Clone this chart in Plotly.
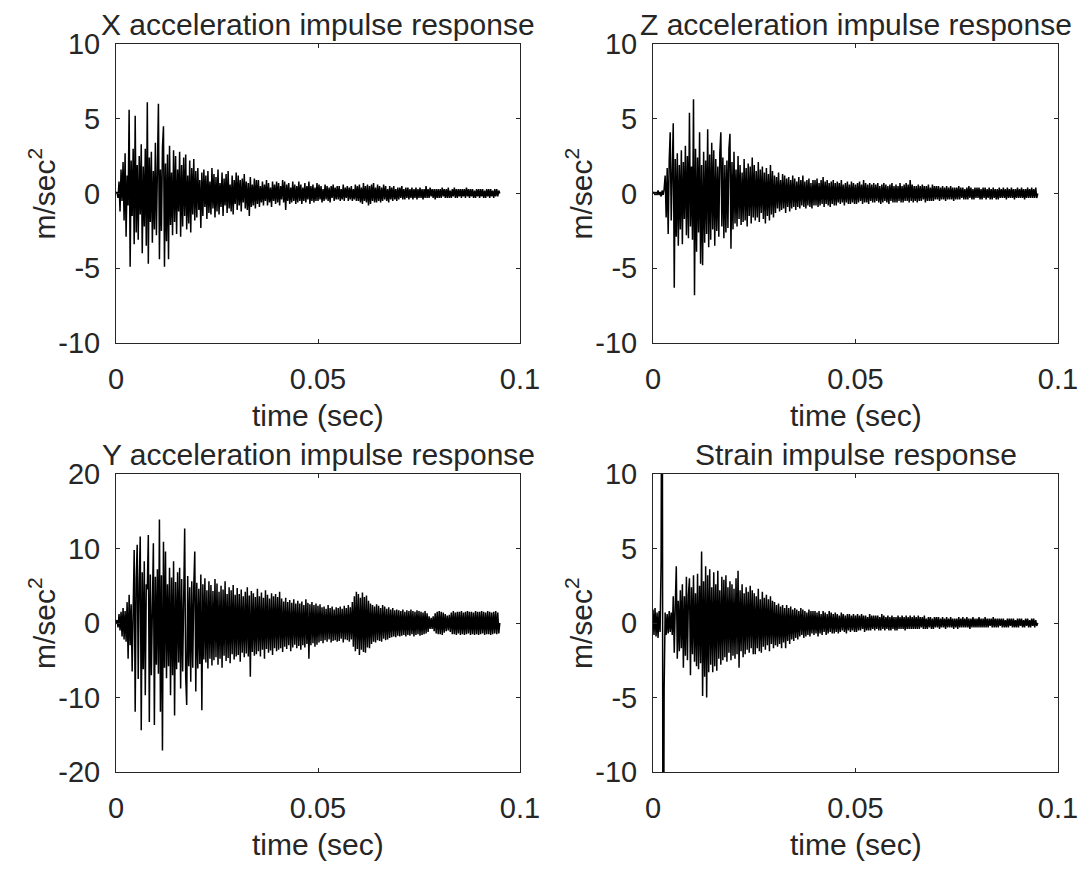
import plotly.graph_objects as go
from plotly.subplots import make_subplots

# samples, 0.25 ms apart, 0 .. 0.095 s (20 values per 5 ms row)
dt = 0.00025

x_accel = [
    0.0, 0.1, -0.3, 0.8, -1.2, 1.6, -0.5, 2.1, -1.8, 2.7, -2.9, 1.2, -0.8, 5.6, -4.9, 2.2, -1.5, 3.0, -3.4, 5.2,
    -2.6, 1.9, -3.1, 2.5, -1.4, 3.3, -4.0, 1.8, -2.2, 3.0, -3.5, 6.1, -4.7, 2.4, -1.9, 2.8, -3.3, 1.5, -2.4, 3.4,
    -2.8, 2.2, 6.0, -4.4, 1.6, -2.5, 3.1, 4.5, -4.9, 2.0, -3.2, 2.6, -4.4, 3.2, -2.1, 1.4, -2.8, 2.9, -1.9, 2.5,
    -2.7, 1.6, -1.2, 2.8, -2.9, 1.9, -2.2, 2.4, -1.5, 2.6, -2.4, 1.2, -2.0, 2.2, -2.6, 1.7, -1.4, 2.3, -1.8, 1.5,
    -1.6, 1.7, -1.1, 0.9, -2.3, 1.4, -1.5, 1.6, -0.9, 1.2, -1.7, 1.5, -1.3, 0.8, -1.4, 1.7, -1.0, 1.3, -1.6, 1.1,
    -1.2, 1.6, -1.4, 0.7, -0.9, 1.4, -1.5, 1.0, -0.8, 1.3, -1.3, 1.5, -1.0, 0.6, -1.2, 1.2, -1.4, 0.9, -0.7, 1.4,
    -1.1, 1.2, -0.8, 0.9, -1.2, 1.0, -0.6, 1.3, -1.0, 0.8, -1.1, 0.7, -1.5, 1.1, -0.9, 0.6, -0.8, 1.0, -1.0, 0.9,
    -0.7, 0.9, -0.9, 0.5, -0.6, 0.8, -0.8, 0.6, -0.5, 0.9, -0.8, 0.7, -0.6, 0.4, -0.9, 0.8, -0.5, 0.6, -0.7, 0.8,
    -0.6, 0.7, -0.8, 0.5, -0.4, 0.9, -0.6, 0.8, -1.1, 0.6, -0.5, 0.7, -0.7, 0.4, -0.6, 0.8, -0.5, 0.6, -0.7, 0.5,
    -0.6, 0.8, -0.5, 0.6, -0.7, 0.4, -0.5, 0.7, -0.6, 0.5, -0.4, 0.8, -0.7, 0.5, -0.5, 0.6, -0.6, 0.4, -0.5, 0.7,
    -0.5, 0.6, -0.4, 0.5, -0.6, 0.3, -0.5, 0.6, -0.4, 0.5, -0.5, 0.4, -0.6, 0.5, -0.3, 0.6, -0.5, 0.4, -0.4, 0.5,
    -0.4, 0.5, -0.5, 0.3, -0.4, 0.6, -0.5, 0.4, -0.3, 0.5, -0.5, 0.4, -0.4, 0.5, -0.5, 0.3, -0.4, 0.6, -0.5, 0.5,
    -0.5, 0.6, -0.6, 0.4, -0.7, 0.7, -0.5, 0.5, -0.6, 0.6, -0.8, 0.5, -0.7, 0.6, -0.5, 0.7, -0.6, 0.4, -0.6, 0.6,
    -0.5, 0.5, -0.6, 0.4, -0.5, 0.6, -0.4, 0.5, -0.5, 0.3, -0.6, 0.5, -0.4, 0.4, -0.5, 0.5, -0.4, 0.3, -0.5, 0.4,
    -0.4, 0.4, -0.3, 0.5, -0.4, 0.3, -0.4, 0.4, -0.3, 0.4, -0.4, 0.3, -0.3, 0.4, -0.4, 0.3, -0.3, 0.4, -0.4, 0.3,
    -0.3, 0.4, -0.3, 0.3, -0.4, 0.3, -0.3, 0.5, -0.3, 0.3, -0.3, 0.4, -0.2, 0.3, -0.3, 0.3, -0.4, 0.3, -0.3, 0.3,
    -0.3, 0.3, -0.3, 0.4, -0.2, 0.3, -0.3, 0.3, -0.3, 0.4, -0.3, 0.2, -0.3, 0.3, -0.2, 0.4, -0.3, 0.3, -0.3, 0.3,
    -0.2, 0.3, -0.3, 0.3, -0.2, 0.3, -0.3, 0.4, -0.2, 0.3, -0.3, 0.3, -0.2, 0.3, -0.3, 0.2, -0.3, 0.3, -0.2, 0.3,
    -0.3, 0.3, -0.2, 0.3, -0.3, 0.2, -0.3, 0.3, -0.2, 0.3, -0.3, 0.3, -0.2, 0.2, -0.3, 0.3, -0.2, 0.3, -0.2, 0.2, 0.0,
]

z_accel = [
    0.0, 0.1, -0.1, 0.1, -0.1, 0.2, -0.1, 0.1, -0.2, 0.2, -0.1, 0.3, 1.2, -1.6, 1.7, -2.7, 2.2, 4.1, -1.8, 2.6,
    4.7, -6.3, 2.3, -2.9, 2.7, -3.5, 1.9, -2.4, 2.9, -3.4, 2.1, -1.7, 3.2, -2.8, 2.5, -3.0, 5.4, -2.2, 1.8, -3.1,
    6.3, -6.8, 3.0, -3.9, 2.4, -2.6, 4.1, -4.7, 1.9, -4.8, 2.8, -3.3, 2.2, -2.7, 4.3, -3.6, 2.6, -3.1, 3.4, -2.4,
    2.9, -3.5, 2.3, -2.5, 1.8, -2.9, 2.7, 4.1, -2.2, 2.4, -3.0, 1.9, -2.6, 2.2, -2.3, 3.0, 4.0, -3.7, 2.1, -2.4,
    2.8, -2.0, 1.6, -2.2, 2.5, -1.7, 1.9, -2.1, 1.4, -1.9, 2.3, -1.8, 1.7, -2.2, 2.0, -1.5, 1.8, -2.0, 2.4, -1.6,
    1.9, -1.8, 1.5, -1.6, 2.1, -1.9, 1.6, -1.3, 1.8, -1.7, 1.4, -2.0, 1.7, -1.5, 1.3, -1.8, 1.9, -1.4, 1.5, -1.6,
    1.2, -1.3, 1.1, -1.0, 1.4, -1.2, 0.9, -1.1, 1.3, -1.0, 1.2, -1.3, 1.0, -0.9, 1.1, -1.2, 0.9, -1.0, 1.2, -0.9,
    1.0, -1.1, 0.8, -0.9, 1.1, -1.0, 0.9, -0.8, 1.2, -0.9, 0.8, -1.0, 0.9, -0.8, 1.0, -0.9, 0.7, -1.0, 0.9, -0.8,
    0.9, -0.8, 1.0, -0.9, 0.7, -0.8, 0.9, -0.7, 1.1, -0.9, 0.8, -0.7, 0.9, -0.8, 0.7, -0.9, 0.8, -0.7, 0.9, -0.8,
    0.7, -0.8, 0.8, -0.6, 0.7, -0.7, 0.9, -0.6, 0.6, -0.8, 0.7, -0.6, 0.8, -0.7, 0.6, -0.7, 0.8, -0.6, 0.7, -0.7,
    0.6, -0.7, 0.7, -0.6, 0.8, -0.5, 0.6, -0.7, 0.9, -0.6, 0.7, -0.6, 0.6, -0.7, 0.7, -0.5, 0.6, -0.6, 0.7, -0.6,
    0.6, -0.5, 0.7, -0.6, 0.5, -0.7, 0.6, -0.6, 0.7, -0.5, 0.6, -0.6, 0.5, -0.7, 0.6, -0.5, 0.7, -0.6, 0.5, -0.6,
    0.6, -0.6, 0.5, -0.5, 0.7, -0.6, 0.5, -0.6, 0.6, -0.5, 0.7, -0.5, 0.6, -0.6, 0.9, -0.5, 0.6, -0.6, 0.5, -0.5,
    0.5, -0.6, 0.6, -0.5, 0.5, -0.5, 0.6, -0.4, 0.5, -0.6, 0.5, -0.5, 0.6, -0.5, 0.4, -0.5, 0.6, -0.5, 0.5, -0.4,
    0.5, -0.4, 0.5, -0.5, 0.4, -0.4, 0.5, -0.4, 0.4, -0.5, 0.5, -0.4, 0.4, -0.4, 0.5, -0.4, 0.4, -0.5, 0.4, -0.4,
    0.4, -0.4, 0.5, -0.4, 0.4, -0.3, 0.4, -0.4, 0.3, -0.4, 0.4, -0.4, 0.5, -0.3, 0.4, -0.4, 0.3, -0.4, 0.4, -0.3,
    0.4, -0.3, 0.4, -0.4, 0.3, -0.4, 0.4, -0.3, 0.4, -0.4, 0.3, -0.3, 0.4, -0.4, 0.3, -0.4, 0.4, -0.3, 0.3, -0.4,
    0.3, -0.4, 0.4, -0.3, 0.3, -0.3, 0.4, -0.3, 0.3, -0.4, 0.4, -0.3, 0.3, -0.3, 0.4, -0.3, 0.3, -0.4, 0.3, -0.3,
    0.4, -0.3, 0.3, -0.3, 0.4, -0.3, 0.3, -0.4, 0.3, -0.3, 0.4, -0.3, 0.3, -0.3, 0.4, -0.3, 0.3, -0.3, 0.4, -0.3, 0.0,
]

y_accel = [
    0.0, 0.4, -0.6, 1.2, -1.0, 1.5, -1.8, 2.0, -2.2, 1.6, -2.5, 2.8, -4.8, 3.8, -3.0, 2.5, -6.5, 5.0, 9.8, -11.9,
    6.0, 10.5, -7.5, 5.5, 11.6, -14.4, 6.8, -6.2, 8.3, -9.7, 5.2, 4.5, 11.8, -13.3, 6.5, -7.0, 5.8, 10.7, -13.7, 6.2,
    -5.6, 7.2, -6.8, 13.9, -11.9, 6.4, -17.1, 10.9, -6.0, 9.6, -7.4, 5.2, -5.8, 7.4, -9.7, 6.1, -7.0, 8.3, -12.4, 5.5,
    -6.2, 6.8, -5.3, 7.4, -8.8, 5.9, -6.5, 5.0, 12.7, -7.2, -11.0, 6.3, -5.8, 4.8, -7.9, 5.6, -6.0, 4.9, 9.6, -9.2,
    5.4, -6.1, 4.6, -5.5, 6.5, -11.7, 5.2, -4.9, 6.0, -5.3, 4.4, -6.1, 5.6, -4.8, 5.1, -5.7, 4.3, -5.0, 5.9, -4.6,
    5.3, -5.6, 4.2, -4.8, 5.0, -6.0, 4.5, -4.4, 5.6, -5.1, 3.9, -4.7, 4.8, -5.4, 4.4, -4.2, 5.1, -4.9, 3.8, -4.5,
    4.7, -4.3, 3.9, -5.2, 4.5, -4.0, 3.6, -4.6, 4.2, -4.1, 4.8, -4.5, 3.7, -7.2, 4.3, -3.9, 4.0, -4.4, 3.5, -4.2,
    4.6, -3.8, 3.6, -4.5, 4.1, -3.6, 3.4, -4.8, 4.4, -3.5, 3.8, -4.0, 3.3, -3.7, 4.0, -4.3, 3.6, -3.4, 3.9, -3.8,
    3.5, -3.6, 4.2, -3.4, 3.3, -3.9, 2.9, -3.2, 3.4, -3.5, 2.8, -3.0, 3.1, -3.8, 2.7, -3.3, 3.2, -2.9, 2.6, -3.4,
    3.0, -3.1, 2.6, -3.6, 2.9, -3.0, 2.4, -3.3, 3.2, -2.8, 2.7, -4.8, 2.5, -3.0, 2.8, -2.7, 2.4, -3.2, 2.6, -2.9,
    2.3, -2.6, 2.5, -2.4, 2.1, -2.7, 2.2, -2.3, 1.9, -2.5, 2.4, -2.2, 2.0, -2.6, 2.2, -2.4, 1.8, -2.3, 2.1, -2.5,
    2.0, -2.4, 2.2, -2.1, 1.9, -2.6, 2.3, -2.2, 2.0, -2.3, 2.4, -2.5, 2.1, -2.2, 2.8, -3.2, 3.6, -3.8, 4.2, -3.5,
    3.9, -4.3, 3.4, -3.6, 4.1, -3.9, 3.5, -4.0, 3.7, -3.3, 3.0, -3.4, 2.6, -2.8, 2.4, -2.5, 2.2, -2.6, 2.5, -2.3,
    2.3, -2.4, 2.0, -2.5, 2.4, -2.1, 2.2, -2.3, 1.9, -2.2, 2.1, -2.0, 1.8, -1.9, 2.0, -1.8, 1.7, -1.9, 1.8, -1.7,
    1.7, -1.8, 1.6, -1.7, 1.8, -1.6, 1.5, -1.8, 1.7, -1.6, 1.6, -1.7, 1.8, -1.5, 1.6, -1.8, 1.5, -1.6, 1.7, -1.5,
    1.6, -1.7, 1.5, -1.6, 1.4, -1.5, 1.6, -1.4, 1.3, -1.2, 0.9, -0.8, 0.7, -0.8, 0.9, -1.1, 1.3, -1.4, 1.5, -1.5,
    1.6, -1.5, 1.5, -1.6, 1.4, -1.3, 1.2, -1.1, 1.0, -1.0, 1.1, -1.2, 1.4, -1.5, 1.6, -1.5, 1.4, -1.6, 1.5, -1.4,
    1.5, -1.6, 1.6, -1.5, 1.4, -1.6, 1.5, -1.5, 1.6, -1.4, 1.5, -1.6, 1.5, -1.5, 1.4, -1.6, 1.6, -1.5, 1.5, -1.6,
    1.5, -1.5, 1.6, -1.4, 1.5, -1.6, 1.4, -1.5, 1.6, -1.5, 1.5, -1.6, 1.4, -1.5, 1.5, -1.4, 1.6, -1.5, 1.4, -1.4, 0.0,
]

strain = [
    0.9, -0.8, 1.0, -0.9, 0.7, -1.0, 0.8, -0.6, 4.1, 30.0, -30.0, -4.4, 0.7, -0.8, 0.6, -0.7, 0.8, -0.6, 0.7, -0.8,
    1.8, -2.0, 1.2, 3.8, -2.4, 1.5, -1.9, 2.2, -1.7, 2.6, -3.0, 1.8, -2.2, 3.1, -2.5, 1.9, 3.0, -3.5, 2.4, -2.1,
    3.2, -2.6, 2.0, -2.9, 3.3, -3.1, 2.5, -2.7, 4.8, -4.9, 2.8, -3.6, 3.8, -5.0, 3.2, -3.3, 3.6, -2.8, 2.4, -3.3,
    3.4, -2.9, 2.6, -3.2, 3.5, -2.4, 2.2, -2.8, 3.1, -2.5, 2.9, -2.3, 3.2, -2.6, 2.4, -2.0, 2.8, -2.5, 2.6, -2.2,
    2.3, -2.4, 3.0, -2.1, 3.5, -3.0, 2.2, -1.9, 2.6, -2.3, 2.0, -2.1, 2.4, -1.8, 2.1, -2.0, 2.5, -1.7, 2.2, -2.1,
    2.0, -2.1, 1.8, -1.7, 2.3, -1.9, 1.6, -2.0, 2.1, -1.6, 1.7, -1.8, 1.9, -1.5, 1.6, -1.9, 1.8, -1.4, 1.5, -1.7,
    1.4, -1.5, 1.2, -1.6, 1.3, -1.4, 1.1, -1.7, 1.2, -1.3, 1.0, -1.7, 1.2, -1.2, 1.0, -1.4, 1.1, -1.1, 0.9, -1.2,
    1.0, -1.0, 0.9, -1.1, 0.8, -0.9, 1.0, -0.8, 0.9, -1.0, 0.8, -0.9, 0.7, -0.8, 0.9, -0.9, 0.8, -0.7, 0.8, -0.8,
    0.8, -0.7, 0.7, -0.9, 0.8, -0.7, 0.6, -0.8, 0.8, -0.6, 0.7, -0.8, 0.6, -0.7, 0.8, -0.6, 0.7, -0.7, 0.6, -0.7,
    0.7, -0.6, 0.6, -0.7, 0.5, -0.6, 0.7, -0.5, 0.6, -0.6, 0.5, -0.7, 0.6, -0.5, 0.6, -0.6, 0.5, -0.5, 0.6, -0.6,
    0.5, -0.6, 0.6, -0.5, 0.5, -0.5, 0.6, -0.4, 0.5, -0.6, 0.5, -0.5, 0.4, -0.5, 0.6, -0.5, 0.5, -0.4, 0.5, -0.5,
    0.5, -0.4, 0.5, -0.5, 0.4, -0.5, 0.6, -0.4, 0.5, -0.5, 0.4, -0.4, 0.5, -0.5, 0.4, -0.5, 0.5, -0.4, 0.4, -0.5,
    0.4, -0.5, 0.5, -0.4, 0.4, -0.4, 0.5, -0.4, 0.4, -0.5, 0.5, -0.4, 0.4, -0.4, 0.5, -0.4, 0.4, -0.4, 0.5, -0.4,
    0.4, -0.4, 0.5, -0.4, 0.4, -0.3, 0.4, -0.4, 0.5, -0.4, 0.3, -0.4, 0.4, -0.3, 0.4, -0.4, 0.3, -0.4, 0.4, -0.3,
    0.4, -0.3, 0.4, -0.4, 0.3, -0.3, 0.4, -0.3, 0.3, -0.4, 0.4, -0.3, 0.3, -0.3, 0.4, -0.3, 0.3, -0.4, 0.3, -0.3,
    0.3, -0.4, 0.4, -0.3, 0.3, -0.3, 0.4, -0.3, 0.3, -0.3, 0.4, -0.3, 0.3, -0.4, 0.3, -0.3, 0.4, -0.3, 0.3, -0.3,
    0.3, -0.3, 0.4, -0.3, 0.3, -0.3, 0.3, -0.3, 0.4, -0.3, 0.3, -0.3, 0.3, -0.2, 0.3, -0.3, 0.4, -0.3, 0.3, -0.3,
    0.3, -0.3, 0.3, -0.2, 0.3, -0.3, 0.3, -0.3, 0.2, -0.3, 0.3, -0.3, 0.3, -0.2, 0.3, -0.3, 0.3, -0.3, 0.2, -0.3,
    0.3, -0.3, 0.3, -0.2, 0.3, -0.3, 0.2, -0.3, 0.3, -0.2, 0.3, -0.3, 0.2, -0.3, 0.3, -0.2, 0.3, -0.3, 0.2, -0.2, 0.0,
]

titles = ["X acceleration impulse response", "Z acceleration impulse response",
          "Y acceleration impulse response", "Strain impulse response"]
y_ranges = [[-10, 10], [-10, 10], [-20, 20], [-10, 10]]
y_ticks = [[-10, -5, 0, 5, 10], [-10, -5, 0, 5, 10],
           [-20, -10, 0, 10, 20], [-10, -5, 0, 5, 10]]
x_ticks = [0, 0.05, 0.1]
x_tick_text = ["0", "0.05", "0.1"]

# page has an 8px body margin, so work in window pixels and shift
OFF = 8
W, H = 1089 - OFF, 871 - OFF
# window-pixel boxes of the four axes (left, right, top, bottom)
boxes = [(116, 520, 44, 343), (653, 1058, 44, 343),
         (116, 520, 474, 772), (653, 1058, 474, 772)]

fig = make_subplots(rows=2, cols=2)
series = [x_accel, z_accel, y_accel, strain]
pos = [(1, 1), (1, 2), (2, 1), (2, 2)]
ink = "#262626"
font = "Liberation Sans, Arial, sans-serif"

for i, vals in enumerate(series):
    t = [k * dt for k in range(len(vals))]
    r, c = pos[i]
    fig.add_trace(go.Scatter(x=t, y=vals, mode="lines",
                             line=dict(color="black", width=1.5),
                             showlegend=False), row=r, col=c)
    l, rt, tp, bt = [v - OFF for v in boxes[i]]
    n = "" if i == 0 else str(i + 1)
    fig.layout["xaxis" + n].update(
        domain=[l / W, rt / W], range=[0, 0.1], tickvals=x_ticks, ticktext=x_tick_text,
        ticks="inside", ticklen=4, tickcolor=ink, showline=True, linecolor=ink,
        linewidth=1, mirror="ticks", showgrid=False, zeroline=False, automargin=False,
        ticklabelstandoff=10, tickfont=dict(size=29, color=ink, family=font))
    fig.layout["yaxis" + n].update(
        domain=[1 - bt / H, 1 - tp / H], range=y_ranges[i], tickvals=y_ticks[i],
        ticktext=[str(v) for v in y_ticks[i]],
        ticks="inside", ticklen=4, tickcolor=ink, showline=True, linecolor=ink,
        linewidth=1, mirror="ticks", showgrid=False, zeroline=False, automargin=False,
        ticklabelstandoff=9, tickfont=dict(size=29, color=ink, family=font))
    cx = (l + rt) / 2 / W
    fig.add_annotation(text=titles[i], x=cx, y=1 - tp / H, xref="paper", yref="paper",
                       xanchor="center", yanchor="bottom", yshift=1, showarrow=False,
                       font=dict(size=30, color=ink, family=font))
    fig.add_annotation(text="time (sec)", x=cx, y=1 - bt / H, xref="paper", yref="paper",
                       xanchor="center", yanchor="middle", yshift=-72, showarrow=False,
                       font=dict(size=30, color=ink, family=font))
    fig.add_annotation(text="m/sec<sup>2</sup>", x=(l - 74) / W, y=1 - (tp + bt) / 2 / H,
                       xref="paper", yref="paper", xanchor="center", yanchor="middle",
                       textangle=-90, showarrow=False,
                       font=dict(size=30, color=ink, family=font))

fig.update_layout(width=W, height=H, margin=dict(l=0, r=0, t=0, b=0, autoexpand=False),
                  paper_bgcolor="white", plot_bgcolor="white")

fig.write_html("out.html")
